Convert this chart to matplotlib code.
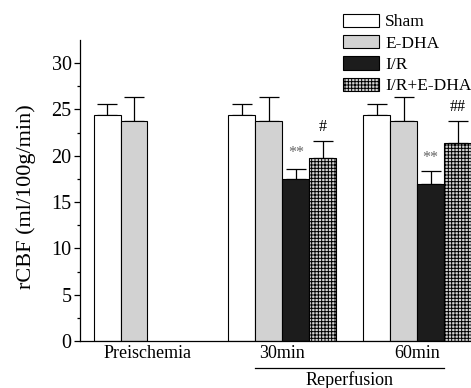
import numpy as np
import matplotlib.pyplot as plt
from matplotlib.patches import Patch

plt.rcParams['font.family'] = ['Liberation Serif', 'DejaVu Serif']
plt.rcParams['hatch.linewidth'] = 0.7

groups = ["Preischemia", "30min", "60min"]
series = ["Sham", "E-DHA", "I/R", "I/R+E-DHA"]
# values per series across the groups (nan = not measured)
sham = [24.4, 24.4, 24.4]
edha = [23.7, 23.7, 23.7]
ir = [np.nan, 17.5, 17.0]
ir_edha = [np.nan, 19.8, 21.4]
sham_err = [1.2, 1.2, 1.2]
edha_err = [2.6, 2.6, 2.6]
ir_err = [np.nan, 1.1, 1.4]
ir_edha_err = [np.nan, 1.8, 2.4]
marks = {"I/R": ["", "**", "**"], "I/R+E-DHA": ["", "#", "##"]}

values = [sham, edha, ir, ir_edha]
errors = [sham_err, edha_err, ir_err, ir_edha_err]
faces = ["white", "#d2d2d2", "#1c1c1c", "#d2d2d2"]
hatches = [None, None, None, "+++++"]

fig = plt.figure(figsize=(4.71, 3.88), dpi=100)
ax = fig.add_axes([0.17, 0.121, 0.83, 0.776])

x0 = np.arange(len(groups)) * 5
for i, name in enumerate(series):
    xs = x0 + i + 0.5
    v = np.array(values[i])
    e = np.array(errors[i])
    ok = ~np.isnan(v)
    ax.bar(xs[ok], v[ok], width=1.0, color=faces[i], edgecolor="black",
           linewidth=0.8, hatch=hatches[i], zorder=2)
    ax.errorbar(xs[ok], v[ok], yerr=[np.zeros(ok.sum()), e[ok]], fmt="none",
                ecolor="black", elinewidth=0.9, capsize=7, capthick=0.9, zorder=1)
    if name in marks:
        for j in range(len(groups)):
            if ok[j] and marks[name][j]:
                top = v[j] + e[j]
                ax.text(xs[j], top + 0.6 if "#" in marks[name][j] else v[j] + 1.9,
                        marks[name][j], ha="center", va="bottom",
                        fontsize=11.5, color="#666666" if "*" in marks[name][j] else "black")

ax.set_xlim(-0.5, 14.0)
ax.set_ylim(0, 32.5)
ax.set_yticks(np.arange(0, 31, 5))
ax.set_yticks(np.arange(0, 32.5, 2.5), minor=True)
ax.set_xticks(x0 + 2)
ax.set_xticklabels(groups, fontsize=13)
ax.tick_params(axis="x", length=0, pad=3)
ax.tick_params(axis="y", labelsize=14.5, length=4, width=0.9, direction="out", pad=2)
ax.tick_params(axis="y", which="minor", length=2.5, width=0.9)
for s in ["top", "right"]:
    ax.spines[s].set_visible(False)
ax.spines["left"].set_linewidth(0.9)
ax.spines["bottom"].set_linewidth(0.9)
ax.spines["bottom"].set_bounds(-0.5, 14.0)
ax.set_ylabel("rCBF (ml/100g/min)", fontsize=16)
ax.yaxis.set_label_coords(-0.112, 0.48)

# Reperfusion bracket
ax.plot([6.0, 13.0], [-2.9, -2.9], color="black", lw=0.9, clip_on=False)
ax.text(9.5, -3.2, "Reperfusion", ha="center", va="top", fontsize=13)

handles = [Patch(facecolor=faces[i], edgecolor="black", hatch=hatches[i], linewidth=0.8)
           for i in range(len(series))]
fig.legend(handles, series, loc="upper left", bbox_to_anchor=(343 / 471, 0.965),
           frameon=False, fontsize=12.5, handlelength=2.07, handleheight=0.8,
           labelspacing=0.27, handletextpad=0.35, borderpad=0, borderaxespad=0)

fig.savefig("out.png", dpi=100)
